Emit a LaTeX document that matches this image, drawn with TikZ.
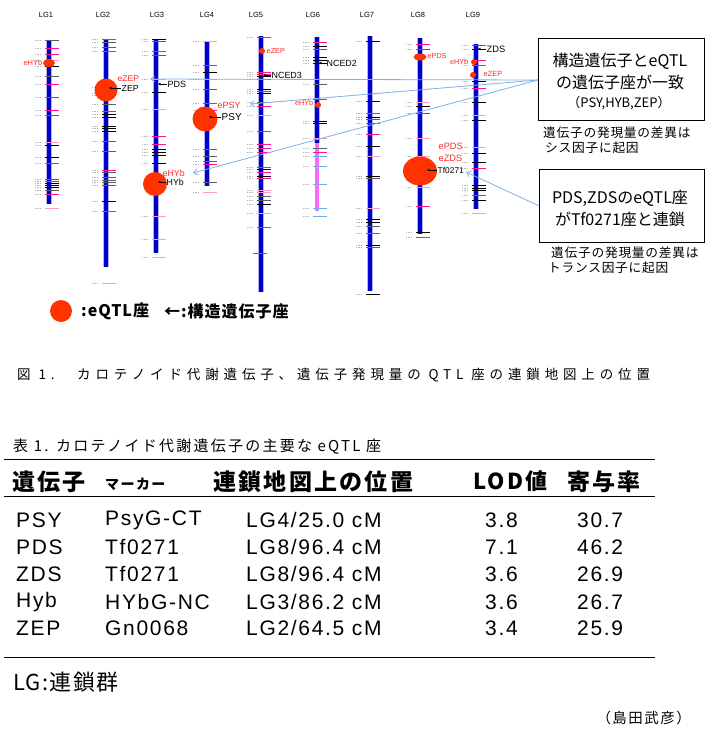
\documentclass[tikz,border=0pt]{standalone}
\usepackage{fontspec}
\setmainfont{Liberation Sans}
\newfontfamily\cjk{Noto Sans CJK JP}
\newfontfamily\cjkcap[LetterSpace=36]{Noto Sans CJK JP}
\newfontfamily\cjksp[LetterSpace=6]{Noto Sans CJK JP}
\newfontfamily\cjktc[LetterSpace=15]{Noto Sans CJK JP}
\newfontfamily\cjkhd[LetterSpace=10]{Noto Sans CJK JP}
\newfontfamily\tabfont[LetterSpace=8]{Liberation Sans}
\usetikzlibrary{arrows.meta,shapes.geometric}
\definecolor{barblue}{HTML}{0000CC}
\definecolor{qtlred}{HTML}{FF3300}
\definecolor{ered}{HTML}{FF2A2A}
\definecolor{kb}{HTML}{000000}
\definecolor{kg}{HTML}{606060}
\definecolor{kp}{HTML}{FF1493}
\definecolor{kl}{HTML}{FF9ACD}
\definecolor{kc}{HTML}{6FB0F0}
\definecolor{lblue}{HTML}{7FB0E6}
\definecolor{violetsix}{HTML}{FF66FF}
\newcommand\fsz[1]{\fontsize{#1}{#1}\selectfont}
\newcommand\chromo[3]{\draw[barhalo] (#1,#2) -- (#1,#3);\draw[barline] (#1,#2) -- (#1,#3);}
\newcommand\tickset[2]{\foreach \yy/\cc in {#2}{\draw[tick,\cc] (#1-4,\yy) -- (#1+10,\yy);\draw[mini] (#1-14,\yy) -- (#1-9,\yy);}}
\begin{document}
\begin{tikzpicture}[x=1pt,y=-1pt,
  barline/.style={draw=barblue,line width=4pt},
  barhalo/.style={draw=barblue!30,line width=5.5pt},
  tick/.style={line width=0.9pt},
  mini/.style={draw=kg!45,line width=1pt,dash pattern=on 1pt off 0.6pt},
  lglab/.style={font=\fsz{7.5},inner sep=0pt},
  qtl/.style={circle,fill=qtlred,inner sep=0pt},
  qtlell/.style={ellipse,fill=qtlred,inner sep=0pt},
  elab/.style={text=ered,inner sep=0.5pt,anchor=west},
  glab/.style={text=black,inner sep=0.5pt,anchor=west},
  garrow/.style={draw=black,line width=0.6pt,-{Stealth[length=3pt,width=2.6pt]}},
  barrow/.style={draw=lblue,line width=0.8pt,-{Straight Barb[length=4pt,width=6pt]}},
  box/.style={draw=black,line width=0.8pt,inner sep=0pt,anchor=north west},
  boxtext/.style={font=\cjk\fsz{16},inner sep=0pt},
  note/.style={font=\cjksp\fsz{12.7},inner sep=0pt,anchor=west},
  hdr/.style={font=\cjkhd\bfseries\fsz{23},inner sep=0pt,anchor=west},
  cell/.style={font=\tabfont\fsz{21},inner sep=0pt,anchor=west},
  rule/.style={draw=black,line width=0.9pt}]
\useasboundingbox (0,0) rectangle (705,737);

% ---------- linkage group labels ----------
\node[lglab] (lg1) at (46,15) {LG1};
\node[lglab] (lg2) at (103,15) {LG2};
\node[lglab] (lg3) at (157,15) {LG3};
\node[lglab] (lg4) at (207,15) {LG4};
\node[lglab] (lg5) at (256,15) {LG5};
\node[lglab] (lg6) at (313,15) {LG6};
\node[lglab] (lg7) at (367,15) {LG7};
\node[lglab] (lg8) at (418,15) {LG8};
\node[lglab] (lg9) at (473,15) {LG9};

% ---------- chromosomes ----------
\chromo{49}{40}{204}
\tickset{49}{40/kg,48/kp,54/kp,60/kl,66/kb,76/kg,84/kp,97/kg,110/kp,115/kg,142/kl,145/kb,157/kb,163/kp,179/kg,181/kg,183/kb,185/kb,187/kb,190/kg,194/kp,208/kl}
\chromo{106}{39}{267}
\tickset{106}{39/kp,42/kg,47/kg,51/kp,87/kp,93/kb,95/kb,104/kg,111/kp,114/kb,117/kb,126/kb,128/kb,131/kb,141/kg,151/kg,170/kp,172/kg,177/kg,180/kg,182/kg,185/kg,201/kb,211/kp,283/kl}
\chromo{156}{39}{253}
\tickset{156}{39/kb,41/kg,51/kp,55/kg,79/kl,92/kb,109/kl,136/kp,144/kp,149/kb,152/kb,155/kb,163/kb,216/kl,239/kl,257/kl}
\chromo{207}{41}{186}
\tickset{207}{41/kl,65/kp,72/kb,79/kl,89/kg,103/kp,110/kp,117/kb,149/kp,156/kg,161/kg,164/kp,182/kg,192/kl}
\chromo{261}{36}{292}
\tickset{261}{37/kp,72/kp,74/kp,76/kb,79/kg,89/kb,91/kg,93/kb,102/kg,106/kp,115/kl,131/kp,144/kp,148/kp,152/kp,167/kp,169/kb,172/kp,176/kb,178/kp,190/kl,192/kl,196/kg,200/kg,204/kb,213/kl,227/kp}
\draw[tick,kp] (253,253) -- (267,253);
\chromo{317}{37}{143}
\draw[draw=violetsix,line width=4pt] (317,143) -- (317,211);
\tickset{317}{42/kp,46/kb,49/kg,57/kb,60/kb,63/kb,79/kg,84/kg,99/kg,121/kb,123/kb,138/kl,148/kg,152/kp,156/kc,166/kc,184/kc,208/kc,216/kc}
\chromo{370}{36}{291}
\tickset{370}{41/kb,101/kb,113/kp,117/kb,119/kg,123/kg,134/kp,146/kb,156/kl,176/kb,178/kg,208/kl,219/kb,222/kb,226/kg,233/kp,245/kb,247/kg,294/kb}
\chromo{420}{38}{234}
\tickset{420}{44/kp,49/kg,102/kl,106/kb,113/kg,138/kl,156/kl,166/kp,180/kp,187/kl,206/kp,232/kb,237/kp}
\chromo{476}{44}{209}
\tickset{476}{45/kg,49/kb,60/kp,65/kp,81/kb,88/kp,102/kb,115/kl,120/kb,147/kl,153/kb,162/kb,168/kp,185/kb,188/kb,190/kb,195/kp,200/kb,213/kl}

% ---------- eQTL loci ----------
\node[qtlell,minimum width=12pt,minimum height=8pt] (q1) at (49,63) {};
\node[qtl,minimum size=23pt] (q2) at (106,90) {};
\node[qtl,minimum size=24pt] (q3) at (155,184) {};
\node[qtl,minimum size=25pt] (q4) at (205,119) {};
\node[qtl,minimum size=6pt] (q5) at (262,51) {};
\node[qtl,minimum size=6pt] (q6) at (318,105) {};
\node[qtlell,minimum width=13pt,minimum height=7pt] (q8a) at (420,57) {};
\node[qtlell,minimum width=34pt,minimum height=29pt] (q8b) at (420,171) {};
\node[qtl,minimum size=6pt] (q9a) at (474,62) {};
\node[qtl,minimum size=6pt] (q9b) at (473,75) {};

% ---------- labels ----------
\node[elab,font=\fsz{7.5},anchor=east] (e1) at (43,63) {eHYb};
\node[elab,font=\fsz{8.5}] (e2) at (117,79) {eZEP};
\node[elab,font=\fsz{8.8}] (e3) at (162,173) {eHYb};
\node[elab,font=\fsz{9}] (e4) at (217,105) {ePSY};
\node[elab,font=\fsz{7.3}] (e5) at (266,51) {eZEP};
\node[elab,font=\fsz{7.3},anchor=east] (e6) at (314,103) {eHYb};
\node[elab,font=\fsz{7.2}] (e8a) at (427,56) {ePDS};
\node[elab,font=\fsz{9.2}] (e8b) at (438,146) {ePDS};
\node[elab,font=\fsz{9.2}] (e8c) at (438,158) {eZDS};
\node[elab,font=\fsz{7.3},anchor=east] (e9a) at (469,62) {eHYb};
\node[elab,font=\fsz{7.5}] (e9b) at (483,74) {eZEP};

\node[glab,font=\fsz{8.8}] (gzep) at (121,88) {ZEP};
\coordinate (gzepb) at (109,88);
\draw[garrow] (gzep.west) -- (gzepb);
\node[glab,font=\fsz{9}] (gpds) at (167,84) {PDS};
\coordinate (gpdsb) at (158,84);
\draw[garrow] (gpds.west) -- (gpdsb);
\node[glab,font=\fsz{8.8}] (ghyb) at (166,182) {HYb};
\coordinate (ghybb) at (158,182);
\draw[garrow] (ghyb.west) -- (ghybb);
\node[glab,font=\fsz{10}] (gpsy) at (221,117) {PSY};
\coordinate (gpsyb) at (209,117);
\draw[garrow] (gpsy.west) -- (gpsyb);
\node[glab,font=\fsz{8.9}] (gn3) at (271,75) {NCED3};
\coordinate (gn3b) at (263,75);
\draw[garrow] (gn3.west) -- (gn3b);
\node[glab,font=\fsz{8.9}] (gn2) at (326,63) {NCED2};
\coordinate (gn2b) at (319,63);
\draw[garrow] (gn2.west) -- (gn2b);
\node[glab,font=\fsz{8.4}] (gtf) at (437,170) {Tf0271};
\coordinate (gtfb) at (427,170);
\draw[garrow] (gtf.west) -- (gtfb);
\node[glab,font=\fsz{9.3}] (gzds) at (486,49) {ZDS};
\coordinate (gzdsb) at (478,49);
\draw[garrow] (gzds.west) -- (gzdsb);

% ---------- boxes ----------
\node[box,minimum width=166pt,minimum height=82pt] (box1) at (538,38) {};
\node[boxtext] (b1l1) at (620,61) {構造遺伝子とeQTL};
\node[boxtext] (b1l2) at (620,82) {の遺伝子座が一致};
\node[boxtext,font=\cjk\fsz{13}] (b1l3) at (619,103) {（PSY,HYB,ZEP）};
\node[note] (n1a) at (543,133) {遺伝子の発現量の差異は};
\node[note] (n1b) at (545,148) {シス因子に起因};

\node[box,minimum width=165pt,minimum height=73pt] (box2) at (539,169) {};
\node[boxtext] (b2l1) at (620,198) {PDS,ZDSのeQTL座};
\node[boxtext] (b2l2) at (620,219) {がTf0271座と連鎖};
\node[note] (n2a) at (551,253) {遺伝子の発現量の差異は};
\node[note] (n2b) at (548,268) {トランス因子に起因};

\coordinate (tpds) at (150,79);
\coordinate (tpsy) at (250,104);
\coordinate (thyb) at (193,173);
\coordinate (ttf) at (466,172);
\coordinate (b1src) at (538,80);
\draw[barrow] (b1src) -- (tpds);
\draw[barrow] (b1src) -- (tpsy);
\draw[barrow] (b1src) -- (thyb);
\draw[barrow] (box2.west) -- (ttf);

% ---------- legend ----------
\node[qtl,minimum size=22pt] (legq) at (61,311) {};
\node[font=\cjksp\bfseries\fsz{16},inner sep=0pt,anchor=west] (legt1) at (81,311) {:eQTL座};
\node[font=\cjksp\bfseries\fsz{16},inner sep=0pt,anchor=west] (legt2) at (164,311) {←:構造遺伝子座};

% ---------- caption ----------
\node[font=\cjkcap\fsz{13.5},inner sep=0pt,anchor=west] (cap1) at (17,375) {図 1.};
\node[font=\cjkcap\fsz{13.5},inner sep=0pt,anchor=west] (cap2) at (77,375) {カロテノイド代謝遺伝子、遺伝子発現量の QTL 座の連鎖地図上の位置};

% ---------- table ----------
\node[font=\cjktc\fsz{15},inner sep=0pt,anchor=west] (tcap) at (13,447) {表 1. カロテノイド代謝遺伝子の主要な eQTL 座};
\draw[rule] (4,459) -- (655,459);
\node[hdr] (h1) at (12,482) {遺伝子};
\node[hdr,font=\cjkhd\bfseries\fsz{14}] (h2) at (105,484) {マーカー};
\node[hdr] (h3) at (213,482) {連鎖地図上の位置};
\node[hdr,font=\cjkhd\bfseries\fsz{22}] (h4) at (473,481) {LOD値};
\node[hdr] (h5) at (567,482) {寄与率};
\draw[rule] (4,496) -- (655,496);

\node[cell] (r1a) at (16,520) {PSY};
\node[cell] (r1b) at (105,520) {PsyG-CT};
\node[cell] (r1c) at (246,520) {LG4/25.0 cM};
\node[cell] (r1d) at (485,520) {3.8};
\node[cell] (r1e) at (577,520) {30.7};
\node[cell] (r2a) at (16,547) {PDS};
\node[cell] (r2b) at (105,547) {Tf0271};
\node[cell] (r2c) at (246,547) {LG8/96.4 cM};
\node[cell] (r2d) at (485,547) {7.1};
\node[cell] (r2e) at (577,547) {46.2};
\node[cell] (r3a) at (16,574) {ZDS};
\node[cell] (r3b) at (105,574) {Tf0271};
\node[cell] (r3c) at (246,574) {LG8/96.4 cM};
\node[cell] (r3d) at (485,574) {3.6};
\node[cell] (r3e) at (577,574) {26.9};
\node[cell] (r4a) at (16,602) {Hyb};
\node[cell] (r4b) at (105,602) {HYbG-NC};
\node[cell] (r4c) at (246,602) {LG3/86.2 cM};
\node[cell] (r4d) at (485,602) {3.6};
\node[cell] (r4e) at (577,602) {26.7};
\node[cell] (r5a) at (16,628) {ZEP};
\node[cell] (r5b) at (105,628) {Gn0068};
\node[cell] (r5c) at (246,628) {LG2/64.5 cM};
\node[cell] (r5d) at (485,628) {3.4};
\node[cell] (r5e) at (577,628) {25.9};
\draw[rule] (4,657) -- (655,657);

\node[font=\cjksp\fsz{22},inner sep=0pt,anchor=west] (lgnote) at (13,682) {LG:連鎖群};
\node[font=\cjkhd\fsz{14.5},inner sep=0pt,anchor=east] (author) at (691,718) {（島田武彦）};
\end{tikzpicture}
\end{document}
